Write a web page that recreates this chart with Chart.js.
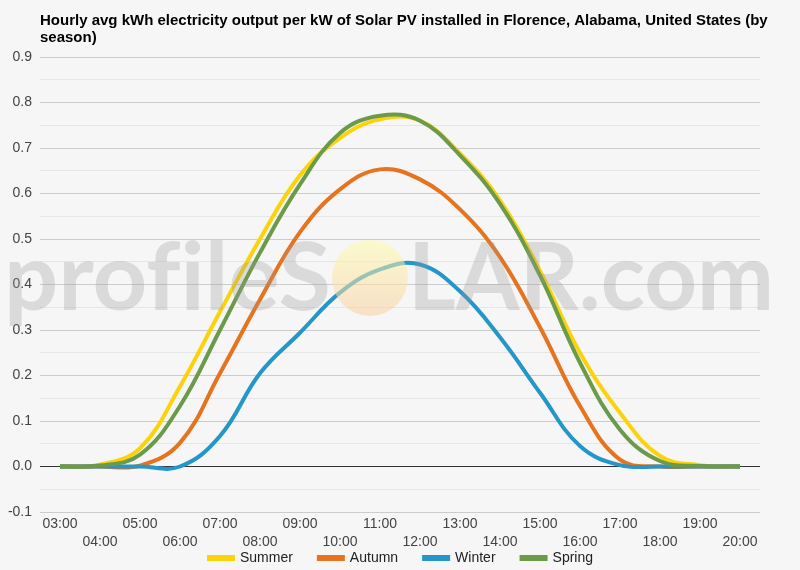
<!DOCTYPE html>
<html><head><meta charset="utf-8">
<script src="https://cdn.jsdelivr.net/npm/chart.js@4.4.0/dist/chart.umd.min.js"></script>
<style>html,body{margin:0;padding:0;background:#f6f6f6;}#wrap{width:800px;height:570px;position:relative;}</style>
</head><body><div id="wrap"><canvas id="c" width="800" height="570"></canvas></div>
<script>
const titleLines = ['Hourly avg kWh electricity output per kW of Solar PV installed in Florence, Alabama, United States (by', 'season)'];
const hours = ['03:00','04:00','05:00','06:00','07:00','08:00','09:00','10:00','11:00','12:00','13:00','14:00','15:00','16:00','17:00','18:00','19:00','20:00'];
const seriesNames = ['Summer','Autumn','Winter','Spring'];
const summer = [0, 0.004, 0.040, 0.176, 0.340, 0.500, 0.640, 0.722, 0.763, 0.760, 0.688, 0.585, 0.430, 0.250, 0.118, 0.023, 0.003, 0];
const autumn = [0, 0, 0.002, 0.052, 0.205, 0.367, 0.515, 0.609, 0.653, 0.631, 0.565, 0.460, 0.306, 0.133, 0.015, 0, 0, 0];
const winter = [0, 0, 0, 0, 0.067, 0.205, 0.294, 0.382, 0.433, 0.444, 0.385, 0.284, 0.162, 0.045, 0.003, 0, 0, 0];
const spring = [0, 0.002, 0.026, 0.133, 0.300, 0.470, 0.620, 0.733, 0.771, 0.760, 0.684, 0.577, 0.420, 0.228, 0.081, 0.012, 0.001, 0];
const seriesValues = [summer, autumn, winter, spring];
const seriesColors = ['#fcd30a', '#e6731e', '#2596c8', '#6b9a4a'];
const yMin = -0.1, yMax = 0.9, yStep = 0.05;

const FONT = '"Liberation Sans", Arial, sans-serif';

const watermark = {
  id: 'watermark',
  afterDatasetsDraw(chart) {
    const ctx = chart.ctx;
    ctx.save();
    const g = ctx.createLinearGradient(0, 240, 0, 316);
    g.addColorStop(0, 'rgba(255,252,170,0.55)');
    g.addColorStop(1, 'rgba(250,205,160,0.55)');
    ctx.fillStyle = g;
    ctx.beginPath();
    ctx.arc(370, 278, 38, 0, Math.PI * 2);
    ctx.fill();
    ctx.fillStyle = 'rgba(150,150,150,0.29)';
    ctx.font = 'bold 93px Lato';
    ctx.textBaseline = 'alphabetic';
    const drawFit = (txt, x0, x1, base) => {
      const w = ctx.measureText(txt).width;
      ctx.save();
      ctx.translate(x0, base);
      ctx.scale((x1 - x0) / w, 1);
      ctx.fillText(txt, 0, 0);
      ctx.restore();
    };
    drawFit('prof\u200Cile S'.replace(' ', ''), 4, 331, 310);
    drawFit('LAR.com', 408, 774, 310);
    ctx.restore();
  }
};

const textPlugin = {
  id: 'texts',
  afterDraw(chart) {
    const ctx = chart.ctx;
    ctx.save();
    ctx.fillStyle = '#000';
    ctx.font = 'bold 15px ' + FONT;
    ctx.textAlign = 'left';
    ctx.textBaseline = 'alphabetic';
    ctx.fillText(titleLines[0], 40, 25);
    ctx.fillText(titleLines[1], 40, 42);
    ctx.font = '14px ' + FONT;
    ctx.textBaseline = 'middle';
    const sw = 28, gapT = 5, gapI = 24, cy = 558;
    const widths = seriesNames.map(n => sw + gapT + ctx.measureText(n).width);
    const total = widths.reduce((a, b) => a + b, 0) + gapI * (seriesNames.length - 1);
    let x = 400 - total / 2;
    seriesNames.forEach((n, i) => {
      ctx.fillStyle = seriesColors[i];
      ctx.fillRect(x, cy - 3, sw, 6);
      ctx.fillStyle = '#222';
      ctx.fillText(n, x + sw + gapT, cy);
      x += widths[i] + gapI;
    });
    ctx.restore();
  }
};

const isMajor = v => Math.abs(Math.round(v * 100)) % 10 === 0;

new Chart(document.getElementById('c'), {
  type: 'line',
  data: {
    labels: hours,
    datasets: seriesNames.map((n, i) => ({
      label: n,
      data: seriesValues[i],
      borderColor: seriesColors[i],
      backgroundColor: seriesColors[i],
      borderWidth: 4,
      pointRadius: 0,
      tension: 0.4,
      fill: false,
      order: 4 - i
    }))
  },
  options: {
    responsive: false,
    animation: false,
    devicePixelRatio: 1,
    layout: { padding: { top: 57, right: 40, bottom: 0, left: 0 } },
    plugins: { legend: { display: false }, title: { display: false }, tooltip: { enabled: false } },
    scales: {
      x: {
        type: 'category',
        offset: true,
        grid: { display: false, drawTicks: false },
        border: { display: false },
        ticks: {
          autoSkip: false, maxRotation: 0, minRotation: 0, padding: 3,
          color: '#444', font: { family: FONT, size: 14, lineHeight: 1.3 },
          callback: (v, i) => i % 2 ? ['', hours[i]] : hours[i]
        },
        afterFit: s => { s.height = 58; }
      },
      y: {
        min: yMin, max: yMax,
        grid: {
          drawTicks: false,
          color: c => {
            const v = c.tick ? c.tick.value : 0;
            if (Math.abs(v) < 1e-9) return '#333';
            return isMajor(v) ? '#cccccc' : '#e6e6e6';
          },
          lineWidth: 1
        },
        border: { display: false },
        ticks: {
          stepSize: yStep, autoSkip: false, padding: 8,
          color: '#444', font: { family: FONT, size: 14 },
          callback: v => isMajor(v) ? (Math.round(v * 10) / 10).toFixed(1) : ''
        },
        afterFit: s => { s.width = 40; }
      }
    }
  },
  plugins: [watermark, textPlugin]
});
</script>
</body></html>
